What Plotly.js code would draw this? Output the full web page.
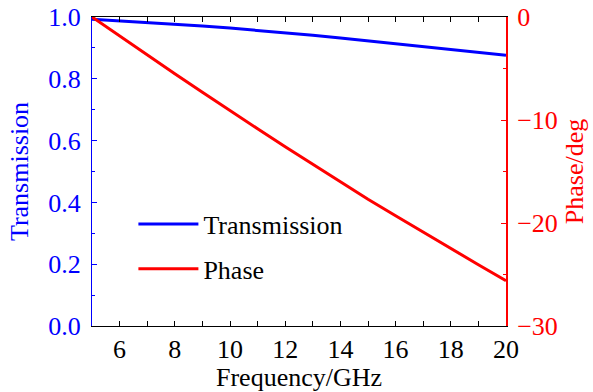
<!DOCTYPE html>
<html>
<head>
<meta charset="utf-8">
<script src="https://cdn.plot.ly/plotly-3.0.1.min.js"></script>
<style>
  html, body { margin: 0; padding: 0; background: #fff; }
  #chart { width: 593px; height: 392px; }
</style>
</head>
<body>
<div id="chart"></div>
<script>
// Frequency sweep (GHz)
const frequency = [5, 6, 7, 8, 9, 10, 11, 12, 13, 14, 15, 16, 17, 18, 19, 20];
// Transmission magnitude
const transmission = [0.993, 0.988, 0.983, 0.977, 0.971, 0.964, 0.957, 0.949, 0.941, 0.932, 0.923, 0.914, 0.905, 0.896, 0.886, 0.876];
// Transmission phase (deg)
const phase = [0, -1.85, -3.68, -5.5, -7.3, -9.1, -10.85, -12.6, -14.3, -16.0, -17.7, -19.3, -20.9, -22.5, -24.05, -25.6];

const FONT = 'Liberation Serif, Times New Roman, serif';
const FS = 26;
const BLUE = '#0000ff';
const RED = '#ff0000';

const traces = [
  {
    x: frequency, y: transmission, name: 'Transmission', type: 'scatter', mode: 'lines',
    line: { color: BLUE, width: 3 }, yaxis: 'y', legend: 'legend'
  },
  {
    x: frequency, y: phase, name: 'Phase', type: 'scatter', mode: 'lines',
    line: { color: RED, width: 3 }, yaxis: 'y2', legend: 'legend2'
  }
];

const legendStyle = {
  font: { family: FONT, size: FS, color: '#000' },
  bgcolor: 'rgba(0,0,0,0)', borderwidth: 0,
  xanchor: 'left', yanchor: 'middle', itemwidth: 60
};

const layout = {
  width: 593, height: 392,
  margin: { l: 92, r: 87, t: 17, b: 66 },
  paper_bgcolor: '#fff', plot_bgcolor: '#fff',
  font: { family: FONT, size: FS, color: '#000' },
  xaxis: {
    range: [5, 20], tickvals: [6, 8, 10, 12, 14, 16, 18, 20],
    ticks: 'inside', ticklen: 5, tickwidth: 1, tickcolor: '#000',
    minor: { dtick: 1, ticks: 'inside', ticklen: 3, tickcolor: '#000' },
    showline: true, linecolor: '#000', linewidth: 1, mirror: 'allticks',
    showgrid: false, zeroline: false,
    tickfont: { family: FONT, size: FS, color: '#000' },
    title: { text: 'Frequency/GHz', font: { family: FONT, size: FS, color: '#000' }, standoff: 0 }
  },
  yaxis: {
    range: [0, 1], dtick: 0.2, tick0: 0, tickformat: '.1f',
    ticks: 'inside', ticklen: 5, tickwidth: 1, tickcolor: BLUE,
    minor: { dtick: 0.1, ticks: 'inside', ticklen: 3, tickcolor: BLUE },
    showline: true, linecolor: BLUE, linewidth: 1,
    showgrid: false, zeroline: false, ticklabelstandoff: 5,
    tickfont: { family: FONT, size: FS, color: BLUE },
    title: { text: 'Transmission', font: { family: FONT, size: FS, color: BLUE }, standoff: 12 }
  },
  yaxis2: {
    overlaying: 'y', side: 'right',
    range: [-30, 0], dtick: 10, tick0: 0,
    ticks: 'inside', ticklen: 5, tickwidth: 1, tickcolor: RED,
    minor: { dtick: 5, ticks: 'inside', ticklen: 3, tickcolor: RED },
    showline: true, linecolor: RED, linewidth: 2,
    showgrid: false, zeroline: false, ticklabelstandoff: 4,
    tickfont: { family: FONT, size: FS, color: RED },
    title: { text: 'Phase/deg', font: { family: FONT, size: FS, color: RED }, standoff: 8 }
  },
  legend: Object.assign({ x: 0.1, y: 0.33 }, legendStyle),
  legend2: Object.assign({ x: 0.1, y: 0.185 }, legendStyle),
  showlegend: true
};

Plotly.newPlot('chart', traces, layout, { displayModeBar: false, staticPlot: true });
</script>
</body>
</html>
